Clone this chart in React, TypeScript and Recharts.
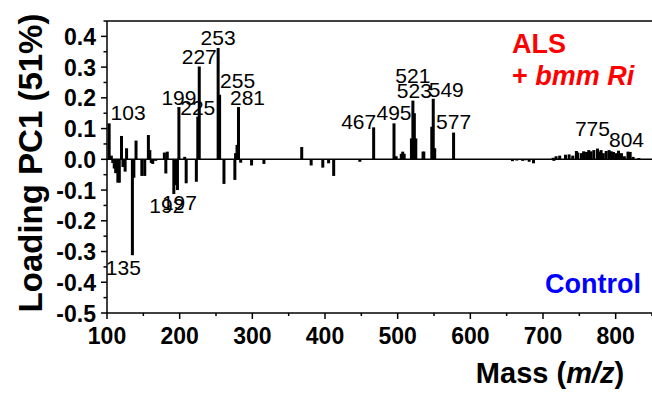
import React from 'react';
import { ComposedChart, Bar, XAxis, YAxis, ReferenceLine, LabelList } from 'recharts';

// m/z positions and PC1 loadings
const masses = [
  103, 106, 108, 110, 112, 115, 117, 120, 122, 125, 127, 135, 137, 140, 148, 152, 157, 159, 161, 163,
  167, 179, 181, 183, 192, 195, 197, 199, 207, 209, 223, 225, 227, 253, 255, 261, 276, 277, 279, 281,
  284, 299, 316, 368, 381, 397, 405, 412, 448, 467, 495, 498, 505, 507, 509, 519, 521, 523, 525, 535,
  536, 547, 549, 551, 577, 658, 664, 672, 676, 681, 687, 714, 715, 718, 723, 731, 736, 741, 746, 748,
  753, 756, 760, 763, 766, 770, 775, 777, 780, 783, 787, 791, 794, 797, 801, 804, 808, 812, 817, 820,
  824, 832,
];
const loadings = [
  0.117, 0.012, -0.012, -0.03, -0.045, -0.076, -0.076, 0.076, -0.025, -0.04, 0.036, -0.312, -0.06, 0.061, -0.054, -0.054, 0.079, 0.03, -0.012, -0.015,
  -0.005, 0.022, -0.046, 0.025, -0.113, -0.084, -0.1, 0.17, 0.008, -0.078, -0.073, 0.139, 0.302, 0.362, 0.21, -0.08, -0.067, 0.02, 0.047, 0.17,
  -0.011, -0.02, -0.015, 0.04, -0.02, -0.027, -0.013, -0.054, -0.008, 0.104, 0.117, 0.01, 0.018, 0.025, 0.018, 0.068, 0.191, 0.15, 0.068, 0.025,
  0.025, 0.106, 0.197, 0.036, 0.087, -0.006, -0.004, -0.005, -0.003, -0.008, -0.013, 0.005, -0.005, 0.01, 0.012, 0.015, 0.016, 0.012, 0.027, 0.022,
  0.02, 0.026, 0.024, 0.03, 0.026, 0.03, 0.035, 0.025, 0.03, 0.02, 0.027, 0.03, 0.026, 0.024, 0.02, 0.028, 0.02, 0.01, 0.025, 0.024,
  0.008, 0.004,
];
const labeledPeaks = [103, 135, 192, 197, 199, 225, 227, 253, 255, 281, 467, 495, 521, 523, 549, 577, 775, 804];
const xTicks = [100, 150, 200, 250, 300, 350, 400, 450, 500, 550, 600, 650, 700, 750, 800, 850];
const yTicks = [-0.5, -0.45, -0.4, -0.35, -0.3, -0.25, -0.2, -0.15, -0.1, -0.05, 0, 0.05, 0.1, 0.15, 0.2, 0.25, 0.3, 0.35, 0.4, 0.45];

const data = masses.map((m, i) => ({ mass: m, load: loadings[i] }));

const FONT = 'Arial, "Liberation Sans", sans-serif';

// label nudges relative to the bar tip (hand placed in the original figure)
const labelShift: Record<number, [number, number]> = {
  103: [19, -11], 135: [-9, 12], 192: [-7, 11], 197: [2, 12], 199: [0, -10],
  225: [0, -9], 227: [0, -10], 253: [0, -11], 255: [18, -14], 281: [9, -10],
  467: [-15, -6], 495: [0, -11], 521: [0, -25], 523: [0, -23], 549: [13, -9],
  577: [0, -11], 775: [-5, -20], 804: [8, -11],
};

const PeakLabel = (props: any) => {
  const { x, y, width, height, value, index } = props;
  if (!labeledPeaks.includes(value)) return null;
  const load = data[index] ? data[index].load : 0;
  const top = Math.min(y, y + height);
  const bottom = Math.max(y, y + height);
  const [dx, dy] = labelShift[value] || [0, -10];
  const cx = x + width / 2 + dx;
  const cy = (load >= 0 ? top : bottom) + dy;
  return (
    <text x={cx} y={cy + 7.5} textAnchor="middle" fontFamily={FONT} fontSize={21} fill="#000">
      {value}
    </text>
  );
};

// stick drawn 3px wide, centred on the bar slot
const Stick = (props: any) => {
  const { x, y, width, height } = props;
  if (x == null || y == null) return null;
  const cx = x + width / 2;
  return <rect x={cx - 1.5} y={Math.min(y, y + height)} width={3} height={Math.abs(height)} fill="#000" />;
};

const MassTick = (props: any) => {
  const { x, y, payload } = props;
  const v = payload.value;
  const major = v % 100 === 0 && v <= 800;
  return (
    <g>
      <line x1={x} x2={x} y1={y} y2={y + (major ? 6 : 3)} stroke="#000" strokeWidth={1.5} />
      {major && (
        <text x={x} y={y + 31} textAnchor="middle" fontFamily={FONT} fontWeight="bold" fontSize={23} fill="#000">
          {v}
        </text>
      )}
    </g>
  );
};

const LoadTick = (props: any) => {
  const { x, y, payload } = props;
  const v = payload.value;
  const major = Math.abs(Math.round(v * 10) - v * 10) < 1e-6 && v < 0.42;
  return (
    <g>
      <line x1={x - (major ? 6 : 3.5)} x2={x} y1={y} y2={y} stroke="#000" strokeWidth={1.5} />
      {major && (
        <text x={x - 11} y={y + 8.5} textAnchor="end" fontFamily={FONT} fontWeight="bold" fontSize={23} fill="#000">
          {v.toFixed(1)}
        </text>
      )}
    </g>
  );
};

const axisStroke = { stroke: '#000', strokeWidth: 1.5 };

const App: React.FC = () => {
  return (
    <div style={{ width: 652, height: 394, background: '#fff' }}>
      <style>{'body{margin:0}'}</style>
      <ComposedChart width={652} height={394} data={data} margin={{ top: 21, right: 0, bottom: 0, left: 0 }}>
        <XAxis
          dataKey="mass"
          type="number"
          domain={[100, 850]}
          ticks={xTicks}
          interval={0}
          height={81}
          tickSize={0}
          tickMargin={0}
          tickLine={false}
          axisLine={axisStroke}
          tick={<MassTick />}
        />
        <YAxis
          type="number"
          domain={[-0.5, 0.45]}
          ticks={yTicks}
          interval={0}
          width={107}
          tickSize={0}
          tickMargin={0}
          tickLine={false}
          axisLine={axisStroke}
          tick={<LoadTick />}
        />
        <ReferenceLine y={0.45} stroke="#000" strokeWidth={1.5} />
        <ReferenceLine y={0} stroke="#000" strokeWidth={1.5} />
        <Bar dataKey="load" fill="#000" barSize={3} shape={<Stick />} isAnimationActive={false}>
          <LabelList dataKey="mass" content={<PeakLabel />} />
        </Bar>
        <text
          transform="translate(42,163) rotate(-90)"
          textAnchor="middle"
          fontFamily={FONT}
          fontWeight="bold"
          fontSize={33}
          fill="#000"
        >
          Loading PC1 (51%)
        </text>
        <text x={550} y={383} textAnchor="middle" fontFamily={FONT} fontWeight="bold" fontSize={29} fill="#000">
          Mass (<tspan fontStyle="italic">m/z</tspan>)
        </text>
        <text x={512} y={53} fontFamily={FONT} fontWeight="bold" fontSize={27} fill="#ff0000">
          ALS
        </text>
        <text x={512} y={85} fontFamily={FONT} fontWeight="bold" fontSize={27} fill="#ff0000">
          + <tspan fontStyle="italic">bmm Ri</tspan>
        </text>
        <text x={545} y={293} fontFamily={FONT} fontWeight="bold" fontSize={27} fill="#0000ff">
          Control
        </text>
      </ComposedChart>
    </div>
  );
};

export default App;
